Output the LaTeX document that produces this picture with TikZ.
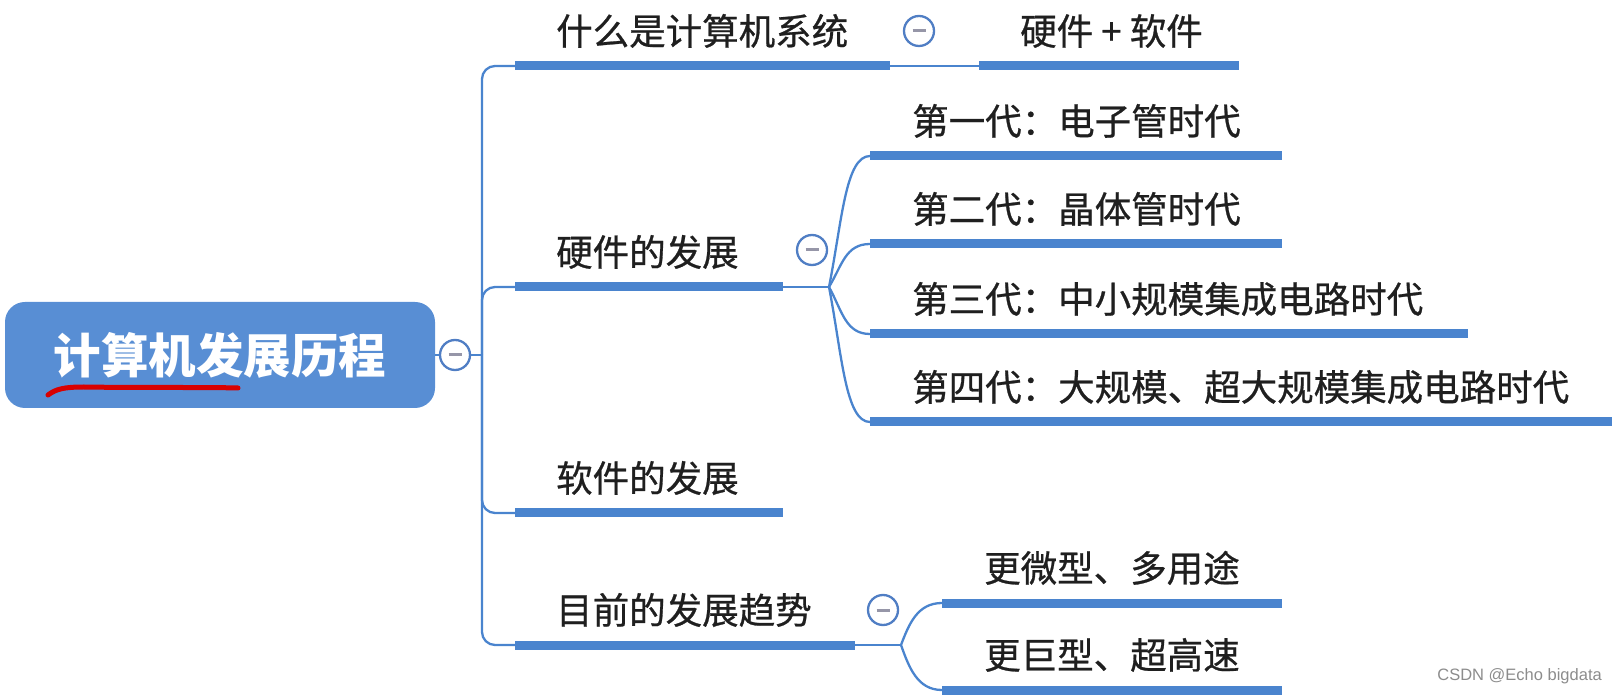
\documentclass[tikz,border=0pt]{standalone}
\usepackage{fontspec}
\newfontfamily\cjk{Noto Sans CJK SC}[FakeBold=0.7]
\newfontfamily\cjkroot{Noto Sans CJK SC}
\newfontfamily\wmfont{Liberation Sans}
\usetikzlibrary{calc}
\definecolor{rootblue}{RGB}{88,142,212}
\definecolor{barblue}{RGB}{74,132,206}
\definecolor{knobblue}{RGB}{80,126,196}
\definecolor{minusgray}{RGB}{150,150,168}
\tikzset{
  rootbox/.style={rectangle, rounded corners=20pt, fill=rootblue, minimum width=430pt, minimum height=106pt,
              font=\cjkroot\bfseries\fontsize{47.5}{52}\selectfont, text=white},
  bar/.style={rectangle, fill=barblue, minimum height=9pt, inner sep=0pt, anchor=west},
  topic/.style={anchor=west, inner sep=0pt, text height=30.3pt, text depth=2.6pt,
              font=\cjk\fontsize{36.5}{40}\selectfont, text=black!88},
  link/.style={draw=barblue, line width=2.3pt},
  knob/.style={circle, draw=knobblue, line width=2.3pt, fill=white, minimum size=30pt, inner sep=0pt,
              path picture={\draw[minusgray, line width=3pt] ($(path picture bounding box.center)+(-6.5pt,0)$) -- ++(13pt,0);}},
  scribble/.style={draw=red!85!black, line width=5pt, line cap=round},
  watermark/.style={anchor=east, inner sep=0pt, font=\wmfont\fontsize{16.5}{18}\selectfont, text=black!45},
}
\begin{document}
\begin{tikzpicture}[x=1pt, y=1pt]
  \useasboundingbox (0,0) rectangle (1615,694);
  % root
  \node[rootbox] (root) at (220,339) {计算机发展历程};
  \draw[scribble] (48,299) .. controls (56,305) and (64,307) .. (84,307)
                  .. controls (150,306) and (200,307) .. (238,306);
  \node[knob] (rk) at (455,339) {};
  \coordinate (trunk) at (482,339);
  \draw[link] (root.east) -- (rk.west);
  \draw[link] (rk.east) -- (trunk);
  % level 1
  \node[bar, minimum width=375pt] (sysbar) at (515,628) {};
  \node[bar, minimum width=268pt] (hwbar)  at (515,407) {};
  \node[bar, minimum width=268pt] (swbar)  at (515,181) {};
  \node[bar, minimum width=340pt] (trbar)  at (515,49)  {};
  \node[topic] (sys) at (556,663) {什么是计算机系统};
  \node[topic] (hw)  at (556,442) {硬件的发展};
  \node[topic] (sw)  at (556,216) {软件的发展};
  \node[topic] (tr)  at (556,84)  {目前的发展趋势};
  \foreach \b in {sysbar, hwbar, swbar, trbar}
    \draw[link, rounded corners=13pt] (trunk) |- (\b.west);
  % what is a computer system
  \node[knob] (k1) at (919,663) {};
  \node[bar, minimum width=260pt] (hsbar) at (979,628) {};
  \node[topic] (hs) at (1020,663) {硬件 + 软件};
  \draw[link] (sysbar.east) -- (hsbar.west);
  % hardware generations
  \node[knob] (k2) at (812,444) {};
  \coordinate (hwfork) at (829,407);
  \node[bar, minimum width=412pt] (g1bar) at (870,538) {};
  \node[bar, minimum width=412pt] (g2bar) at (870,450) {};
  \node[bar, minimum width=598pt] (g3bar) at (870,360) {};
  \node[bar, minimum width=742pt] (g4bar) at (870,272) {};
  \node[topic] (g1) at (912,573) {第一代：电子管时代};
  \node[topic] (g2) at (912,485) {第二代：晶体管时代};
  \node[topic] (g3) at (912,395) {第三代：中小规模集成电路时代};
  \node[topic] (g4) at (912,307) {第四代：大规模、超大规模集成电路时代};
  \draw[link] (hwbar.east) -- (hwfork);
  \foreach \g in {g1bar, g2bar, g3bar, g4bar}
    \draw[link] (hwfork) .. controls ($(hwfork)!0.5!(hwfork |- \g.west)+(13pt,0)$)
                and ($(\g.west)!0.6!(hwfork |- \g.west)$) .. (\g.west);
  % trends
  \node[knob] (k4) at (883,84) {};
  \coordinate (trfork) at (901,49);
  \node[bar, minimum width=340pt] (t1bar) at (942,91) {};
  \node[bar, minimum width=340pt] (t2bar) at (942,4)  {};
  \node[topic] (t1) at (984,126) {更微型、多用途};
  \node[topic] (t2) at (984,39)  {更巨型、超高速};
  \draw[link] (trbar.east) -- (trfork);
  \foreach \t in {t1bar, t2bar}
    \draw[link] (trfork) .. controls ($(trfork)!0.5!(trfork |- \t.west)+(8pt,0)$)
                and ($(\t.west)!0.6!(trfork |- \t.west)$) .. (\t.west);
  \node[watermark] (wm) at (1602,18) {CSDN @Echo bigdata};
\end{tikzpicture}
\end{document}
